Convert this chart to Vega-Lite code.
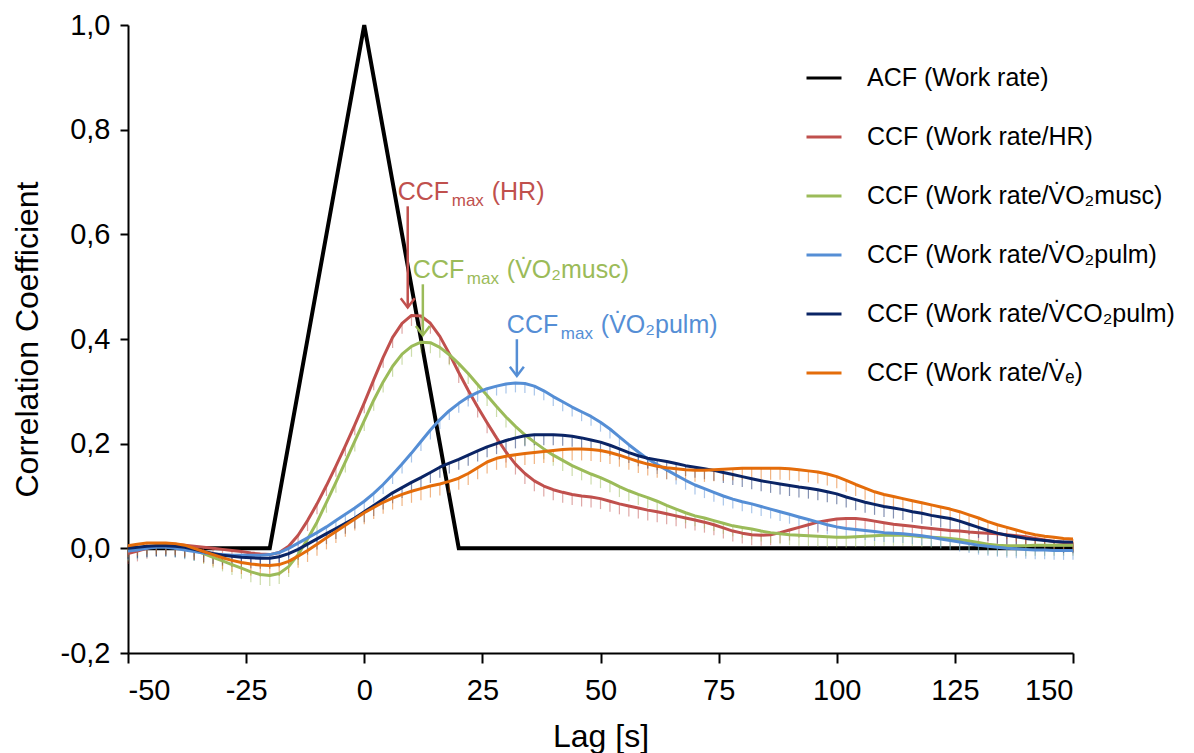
{
"$schema": "https://vega.github.io/schema/vega-lite/v6.json",
"width": 945, "height": 628,
"autosize": {"type": "none"},
"padding": {"left": 128, "top": 25, "right": 121, "bottom": 100},
"background": "white",
"config": {
 "font": "Liberation Sans",
 "view": {"stroke": null},
 "axis": {"domainColor": "black", "domainWidth": 2, "tickColor": "black", "tickWidth": 2, "labelColor": "black", "titleColor": "black", "grid": false, "labelFontSize": 29, "titleFontSize": 32, "titleFontWeight": "normal", "labelFont": "Liberation Sans", "titleFont": "Liberation Sans"},
 "legend": {"orient": "none", "legendX": 677, "legendY": 34, "title": null, "symbolType": "stroke", "symbolSize": 1225, "symbolStrokeWidth": 3, "symbolOpacity": 1, "labelFontSize": 25, "labelFont": "Liberation Sans", "labelColor": "black", "labelOffset": 24, "rowPadding": 27, "labelLimit": 500, "padding": 0}
},
"datasets": {
 "series": [
  {"k": "a", "name": "ACF (Work rate)", "up": 0, "dn": 0},
  {"k": "h", "name": "CCF (Work rate/HR)", "up": 0, "dn": -0.02},
  {"k": "m", "name": "CCF (Work rate/V\u0307O\u2082musc)", "up": 0, "dn": -0.02},
  {"k": "p", "name": "CCF (Work rate/V\u0307O\u2082pulm)", "up": 0, "dn": -0.018},
  {"k": "c", "name": "CCF (Work rate/V\u0307CO\u2082pulm)", "up": 0, "dn": -0.02},
  {"k": "e", "name": "CCF (Work rate/V\u0307\u2091)", "up": 0, "dn": -0.022}
 ],
 "peaks": [
  {"name": "CCF (Work rate/HR)", "t": 9.2, "peak": 0.447, "lab": 0.665, "txt": "(HR)"},
  {"name": "CCF (Work rate/V\u0307O\u2082musc)", "t": 12.4, "peak": 0.394, "lab": 0.516, "txt": "(V\u0307O\u2082musc)"},
  {"name": "CCF (Work rate/V\u0307O\u2082pulm)", "t": 32.3, "peak": 0.316, "lab": 0.411, "txt": "(V\u0307O\u2082pulm)"}
 ],
 "curves": [
  {"t":-50,"a":0,"h":-0.01,"m":-0.005,"p":-0.005,"c":0,"e":0.005},
  {"t":-48,"a":0,"h":-0.005,"m":0,"p":-0.003,"c":0.002,"e":0.008},
  {"t":-46,"a":0,"h":0,"m":0.003,"p":0,"c":0.004,"e":0.01},
  {"t":-44,"a":0,"h":0.005,"m":0.005,"p":0.002,"c":0.005,"e":0.01},
  {"t":-42,"a":0,"h":0.008,"m":0.005,"p":0.002,"c":0.005,"e":0.01},
  {"t":-40,"a":0,"h":0.008,"m":0.003,"p":0,"c":0.004,"e":0.009},
  {"t":-38,"a":0,"h":0.006,"m":0,"p":-0.003,"c":0.002,"e":0.006},
  {"t":-36,"a":0,"h":0.004,"m":-0.004,"p":-0.006,"c":-0.002,"e":0},
  {"t":-34,"a":0,"h":0.002,"m":-0.01,"p":-0.009,"c":-0.006,"e":-0.006},
  {"t":-32,"a":0,"h":0,"m":-0.017,"p":-0.011,"c":-0.01,"e":-0.012},
  {"t":-30,"a":0,"h":-0.002,"m":-0.024,"p":-0.012,"c":-0.013,"e":-0.018},
  {"t":-28,"a":0,"h":-0.004,"m":-0.031,"p":-0.013,"c":-0.015,"e":-0.023},
  {"t":-26,"a":0,"h":-0.006,"m":-0.038,"p":-0.013,"c":-0.017,"e":-0.027},
  {"t":-24,"a":0,"h":-0.009,"m":-0.045,"p":-0.013,"c":-0.018,"e":-0.03},
  {"t":-22,"a":0,"h":-0.011,"m":-0.05,"p":-0.013,"c":-0.019,"e":-0.032},
  {"t":-20,"a":0,"h":-0.012,"m":-0.052,"p":-0.012,"c":-0.019,"e":-0.033},
  {"t":-18,"a":0.1,"h":-0.008,"m":-0.048,"p":-0.008,"c":-0.016,"e":-0.031},
  {"t":-16,"a":0.2,"h":0.004,"m":-0.035,"p":0,"c":-0.01,"e":-0.025},
  {"t":-14,"a":0.3,"h":0.025,"m":-0.012,"p":0.01,"c":-0.002,"e":-0.015},
  {"t":-12,"a":0.4,"h":0.053,"m":0.018,"p":0.02,"c":0.008,"e":-0.004},
  {"t":-10,"a":0.5,"h":0.085,"m":0.05,"p":0.03,"c":0.018,"e":0.008},
  {"t":-8,"a":0.6,"h":0.12,"m":0.088,"p":0.041,"c":0.028,"e":0.02},
  {"t":-6,"a":0.7,"h":0.157,"m":0.126,"p":0.053,"c":0.038,"e":0.032},
  {"t":-4,"a":0.8,"h":0.196,"m":0.165,"p":0.065,"c":0.048,"e":0.044},
  {"t":-2,"a":0.9,"h":0.236,"m":0.205,"p":0.077,"c":0.058,"e":0.056},
  {"t":0,"a":1,"h":0.278,"m":0.244,"p":0.09,"c":0.07,"e":0.068},
  {"t":2,"a":0.9,"h":0.322,"m":0.283,"p":0.105,"c":0.082,"e":0.078},
  {"t":4,"a":0.8,"h":0.365,"m":0.318,"p":0.122,"c":0.094,"e":0.088},
  {"t":6,"a":0.7,"h":0.403,"m":0.348,"p":0.141,"c":0.106,"e":0.096},
  {"t":8,"a":0.6,"h":0.43,"m":0.371,"p":0.161,"c":0.116,"e":0.103},
  {"t":10,"a":0.5,"h":0.445,"m":0.386,"p":0.182,"c":0.126,"e":0.109},
  {"t":12,"a":0.4,"h":0.444,"m":0.394,"p":0.204,"c":0.135,"e":0.114},
  {"t":14,"a":0.3,"h":0.43,"m":0.393,"p":0.226,"c":0.145,"e":0.119},
  {"t":16,"a":0.2,"h":0.405,"m":0.384,"p":0.246,"c":0.155,"e":0.123},
  {"t":18,"a":0.1,"h":0.372,"m":0.37,"p":0.263,"c":0.163,"e":0.128},
  {"t":20,"a":0,"h":0.336,"m":0.353,"p":0.277,"c":0.17,"e":0.134},
  {"t":22,"a":0,"h":0.302,"m":0.334,"p":0.289,"c":0.178,"e":0.143},
  {"t":24,"a":0,"h":0.27,"m":0.313,"p":0.298,"c":0.186,"e":0.154},
  {"t":26,"a":0,"h":0.24,"m":0.292,"p":0.305,"c":0.194,"e":0.165},
  {"t":28,"a":0,"h":0.211,"m":0.271,"p":0.31,"c":0.2,"e":0.172},
  {"t":30,"a":0,"h":0.184,"m":0.251,"p":0.314,"c":0.206,"e":0.176},
  {"t":32,"a":0,"h":0.161,"m":0.233,"p":0.316,"c":0.211,"e":0.179},
  {"t":34,"a":0,"h":0.143,"m":0.217,"p":0.315,"c":0.215,"e":0.181},
  {"t":36,"a":0,"h":0.129,"m":0.203,"p":0.31,"c":0.217,"e":0.183},
  {"t":38,"a":0,"h":0.119,"m":0.19,"p":0.301,"c":0.217,"e":0.185},
  {"t":40,"a":0,"h":0.112,"m":0.178,"p":0.29,"c":0.217,"e":0.187},
  {"t":42,"a":0,"h":0.107,"m":0.168,"p":0.28,"c":0.216,"e":0.189},
  {"t":44,"a":0,"h":0.103,"m":0.158,"p":0.27,"c":0.214,"e":0.19},
  {"t":46,"a":0,"h":0.1,"m":0.15,"p":0.261,"c":0.211,"e":0.19},
  {"t":48,"a":0,"h":0.098,"m":0.142,"p":0.252,"c":0.207,"e":0.189},
  {"t":50,"a":0,"h":0.095,"m":0.135,"p":0.241,"c":0.203,"e":0.187},
  {"t":52,"a":0,"h":0.09,"m":0.127,"p":0.228,"c":0.197,"e":0.183},
  {"t":54,"a":0,"h":0.085,"m":0.118,"p":0.213,"c":0.19,"e":0.178},
  {"t":56,"a":0,"h":0.081,"m":0.11,"p":0.198,"c":0.183,"e":0.172},
  {"t":58,"a":0,"h":0.077,"m":0.103,"p":0.184,"c":0.177,"e":0.166},
  {"t":60,"a":0,"h":0.073,"m":0.097,"p":0.171,"c":0.172,"e":0.161},
  {"t":62,"a":0,"h":0.07,"m":0.09,"p":0.16,"c":0.169,"e":0.157},
  {"t":64,"a":0,"h":0.066,"m":0.082,"p":0.15,"c":0.166,"e":0.154},
  {"t":66,"a":0,"h":0.062,"m":0.075,"p":0.14,"c":0.162,"e":0.152},
  {"t":68,"a":0,"h":0.058,"m":0.068,"p":0.13,"c":0.158,"e":0.15},
  {"t":70,"a":0,"h":0.054,"m":0.062,"p":0.121,"c":0.155,"e":0.149},
  {"t":72,"a":0,"h":0.05,"m":0.058,"p":0.114,"c":0.152,"e":0.149},
  {"t":74,"a":0,"h":0.045,"m":0.053,"p":0.107,"c":0.149,"e":0.15},
  {"t":76,"a":0,"h":0.039,"m":0.048,"p":0.1,"c":0.145,"e":0.151},
  {"t":78,"a":0,"h":0.033,"m":0.043,"p":0.094,"c":0.141,"e":0.152},
  {"t":80,"a":0,"h":0.029,"m":0.04,"p":0.089,"c":0.137,"e":0.153},
  {"t":82,"a":0,"h":0.026,"m":0.037,"p":0.085,"c":0.133,"e":0.153},
  {"t":84,"a":0,"h":0.025,"m":0.033,"p":0.08,"c":0.129,"e":0.153},
  {"t":86,"a":0,"h":0.026,"m":0.03,"p":0.075,"c":0.126,"e":0.153},
  {"t":88,"a":0,"h":0.03,"m":0.028,"p":0.07,"c":0.123,"e":0.153},
  {"t":90,"a":0,"h":0.035,"m":0.026,"p":0.065,"c":0.12,"e":0.152},
  {"t":92,"a":0,"h":0.04,"m":0.025,"p":0.06,"c":0.117,"e":0.15},
  {"t":94,"a":0,"h":0.045,"m":0.024,"p":0.055,"c":0.115,"e":0.148},
  {"t":96,"a":0,"h":0.05,"m":0.023,"p":0.05,"c":0.112,"e":0.146},
  {"t":98,"a":0,"h":0.053,"m":0.022,"p":0.045,"c":0.108,"e":0.142},
  {"t":100,"a":0,"h":0.056,"m":0.021,"p":0.041,"c":0.104,"e":0.137},
  {"t":102,"a":0,"h":0.057,"m":0.021,"p":0.038,"c":0.098,"e":0.13},
  {"t":104,"a":0,"h":0.057,"m":0.022,"p":0.036,"c":0.093,"e":0.122},
  {"t":106,"a":0,"h":0.055,"m":0.023,"p":0.034,"c":0.088,"e":0.115},
  {"t":108,"a":0,"h":0.052,"m":0.024,"p":0.032,"c":0.084,"e":0.108},
  {"t":110,"a":0,"h":0.049,"m":0.025,"p":0.03,"c":0.08,"e":0.103},
  {"t":112,"a":0,"h":0.046,"m":0.025,"p":0.029,"c":0.077,"e":0.099},
  {"t":114,"a":0,"h":0.044,"m":0.025,"p":0.028,"c":0.074,"e":0.095},
  {"t":116,"a":0,"h":0.042,"m":0.024,"p":0.026,"c":0.07,"e":0.091},
  {"t":118,"a":0,"h":0.04,"m":0.022,"p":0.024,"c":0.067,"e":0.087},
  {"t":120,"a":0,"h":0.038,"m":0.021,"p":0.021,"c":0.063,"e":0.083},
  {"t":122,"a":0,"h":0.036,"m":0.02,"p":0.018,"c":0.06,"e":0.079},
  {"t":124,"a":0,"h":0.034,"m":0.019,"p":0.015,"c":0.057,"e":0.075},
  {"t":126,"a":0,"h":0.033,"m":0.017,"p":0.012,"c":0.052,"e":0.07},
  {"t":128,"a":0,"h":0.031,"m":0.014,"p":0.009,"c":0.046,"e":0.064},
  {"t":130,"a":0,"h":0.03,"m":0.011,"p":0.006,"c":0.04,"e":0.058},
  {"t":132,"a":0,"h":0.029,"m":0.008,"p":0.004,"c":0.034,"e":0.051},
  {"t":134,"a":0,"h":0.028,"m":0.006,"p":0.002,"c":0.029,"e":0.045},
  {"t":136,"a":0,"h":0.026,"m":0.005,"p":0,"c":0.025,"e":0.04},
  {"t":138,"a":0,"h":0.024,"m":0.005,"p":-0.001,"c":0.022,"e":0.035},
  {"t":140,"a":0,"h":0.022,"m":0.005,"p":-0.002,"c":0.019,"e":0.03},
  {"t":142,"a":0,"h":0.019,"m":0.006,"p":-0.003,"c":0.017,"e":0.026},
  {"t":144,"a":0,"h":0.016,"m":0.006,"p":-0.003,"c":0.015,"e":0.023},
  {"t":146,"a":0,"h":0.013,"m":0.006,"p":-0.004,"c":0.013,"e":0.021},
  {"t":148,"a":0,"h":0.011,"m":0.006,"p":-0.004,"c":0.012,"e":0.019},
  {"t":150,"a":0,"h":0.01,"m":0.006,"p":-0.004,"c":0.012,"e":0.018}
 ]
},
"layer": [
 {
  "data": {"name": "curves"},
  "transform": [
   {"fold": ["a", "h", "m", "p", "c", "e"], "as": ["k", "v"]},
   {"lookup": "k", "from": {"data": {"name": "series"}, "key": "k", "fields": ["name", "up", "dn"]}},
   {"filter": "datum.k === 'a'"}
  ],
  "mark": {"type": "line", "strokeWidth": 4, "strokeJoin": "miter"},
  "encoding": {
   "x": {"field": "t", "type": "quantitative", "title": "Lag [s]", "scale": {"domain": [-50, 150], "nice": false, "zero": false},
    "axis": {"values": [-50, -25, 0, 25, 50, 75, 100, 125, 150], "labelExpr": "toString(datum.value)", "tickSize": 10, "labelPadding": 13, "titlePadding": 16}},
   "y": {"field": "v", "type": "quantitative", "title": "Correlation Coefficient", "scale": {"domain": [-0.2, 1.0], "nice": false, "zero": false},
    "axis": {"values": [-0.2, 0, 0.2, 0.4, 0.6, 0.8, 1.0], "labelExpr": "replace(replace(format(datum.value, '.1f'), '.', ','), '\u2212', '-')", "tickSize": 8, "labelPadding": 10, "titlePadding": 16}},
   "color": {"field": "name", "type": "nominal", "title": null,
    "scale": {"domain": ["ACF (Work rate)", "CCF (Work rate/HR)", "CCF (Work rate/V\u0307O\u2082musc)", "CCF (Work rate/V\u0307O\u2082pulm)", "CCF (Work rate/V\u0307CO\u2082pulm)", "CCF (Work rate/V\u0307\u2091)"],
     "range": ["#000000", "#C0504D", "#9BBB59", "#558ED5", "#0A2465", "#E46C0A"]},
    "legend": {"orient": "none", "legendX": 677, "legendY": 34, "title": null, "symbolType": "stroke", "symbolSize": 1225, "symbolStrokeWidth": 3, "symbolOpacity": 1, "labelFontSize": 25, "labelOffset": 24, "rowPadding": 27, "labelLimit": 500, "padding": 0}}
  }
 },
 {
  "data": {"name": "curves"},
  "transform": [
   {"fold": ["a", "h", "m", "p", "c", "e"], "as": ["k", "v"]},
   {"lookup": "k", "from": {"data": {"name": "series"}, "key": "k", "fields": ["name", "up", "dn"]}},
   {"filter": "datum.k !== 'a'"}
  ],
  "mark": {"type": "errorbar", "thickness": 1.2, "opacity": 0.5},
  "encoding": {
   "x": {"field": "t", "type": "quantitative", "title": "Lag [s]", "scale": {"domain": [-50, 150], "nice": false, "zero": false}},
   "y": {"field": "v", "type": "quantitative", "title": "Correlation Coefficient", "scale": {"domain": [-0.2, 1.0], "nice": false, "zero": false}},
   "yError": {"field": "up"},
   "yError2": {"field": "dn"},
   "color": {"field": "name", "type": "nominal", "title": null}
  }
 },
 {
  "data": {"name": "curves"},
  "transform": [
   {"fold": ["a", "h", "m", "p", "c", "e"], "as": ["k", "v"]},
   {"lookup": "k", "from": {"data": {"name": "series"}, "key": "k", "fields": ["name", "up", "dn"]}},
   {"filter": "datum.k !== 'a'"}
  ],
  "mark": {"type": "line", "strokeWidth": 3, "strokeJoin": "round"},
  "encoding": {
   "x": {"field": "t", "type": "quantitative", "title": "Lag [s]", "scale": {"domain": [-50, 150], "nice": false, "zero": false}},
   "y": {"field": "v", "type": "quantitative", "title": "Correlation Coefficient", "scale": {"domain": [-0.2, 1.0], "nice": false, "zero": false}},
   "color": {"field": "name", "type": "nominal", "title": null}
  }
 },
 {
  "data": {"name": "peaks"},
  "mark": {"type": "rule", "strokeWidth": 2.5, "yOffset": -7, "y2Offset": 6},
  "encoding": {
   "x": {"field": "t", "type": "quantitative", "title": "Lag [s]", "scale": {"domain": [-50, 150], "nice": false, "zero": false}},
   "y": {"field": "peak", "type": "quantitative", "title": "Correlation Coefficient", "scale": {"domain": [-0.2, 1.0], "nice": false, "zero": false}},
   "y2": {"field": "lab"},
   "color": {"field": "name", "type": "nominal", "title": null}
  }
 },
 {
  "data": {"name": "peaks"},
  "mark": {"type": "point", "shape": "M-1,-1.3L0,0L1,-1.3", "filled": false, "size": 196, "strokeWidth": 2.5, "opacity": 1, "yOffset": -7},
  "encoding": {
   "x": {"field": "t", "type": "quantitative", "title": "Lag [s]", "scale": {"domain": [-50, 150], "nice": false, "zero": false}},
   "y": {"field": "peak", "type": "quantitative", "title": "Correlation Coefficient", "scale": {"domain": [-0.2, 1.0], "nice": false, "zero": false}},
   "color": {"field": "name", "type": "nominal", "title": null}
  }
 },
 {
  "data": {"name": "peaks"},
  "mark": {"type": "text", "text": "CCF", "align": "left", "baseline": "alphabetic", "dx": -10, "fontSize": 25},
  "encoding": {
   "x": {"field": "t", "type": "quantitative", "title": "Lag [s]", "scale": {"domain": [-50, 150], "nice": false, "zero": false}},
   "y": {"field": "lab", "type": "quantitative", "title": "Correlation Coefficient", "scale": {"domain": [-0.2, 1.0], "nice": false, "zero": false}},
   "color": {"field": "name", "type": "nominal", "title": null}
  }
 },
 {
  "data": {"name": "peaks"},
  "mark": {"type": "text", "text": "max", "align": "left", "baseline": "alphabetic", "dx": 44, "dy": 6, "fontSize": 17},
  "encoding": {
   "x": {"field": "t", "type": "quantitative", "title": "Lag [s]", "scale": {"domain": [-50, 150], "nice": false, "zero": false}},
   "y": {"field": "lab", "type": "quantitative", "title": "Correlation Coefficient", "scale": {"domain": [-0.2, 1.0], "nice": false, "zero": false}},
   "color": {"field": "name", "type": "nominal", "title": null}
  }
 },
 {
  "data": {"name": "peaks"},
  "mark": {"type": "text", "align": "left", "baseline": "alphabetic", "dx": 84, "fontSize": 25},
  "encoding": {
   "x": {"field": "t", "type": "quantitative", "title": "Lag [s]", "scale": {"domain": [-50, 150], "nice": false, "zero": false}},
   "y": {"field": "lab", "type": "quantitative", "title": "Correlation Coefficient", "scale": {"domain": [-0.2, 1.0], "nice": false, "zero": false}},
   "text": {"field": "txt"},
   "color": {"field": "name", "type": "nominal", "title": null}
  }
 }
]
}
